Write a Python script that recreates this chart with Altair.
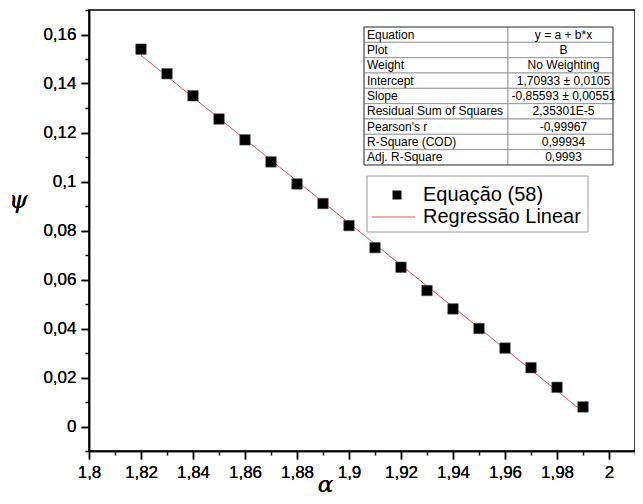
import altair as alt
import pandas as pd

# ---- data ----
alpha = [1.82, 1.83, 1.84, 1.85, 1.86, 1.87, 1.88, 1.89, 1.90,
         1.91, 1.92, 1.93, 1.94, 1.95, 1.96, 1.97, 1.98, 1.99]
psi = [0.154, 0.144, 0.135, 0.1255, 0.117, 0.108, 0.099, 0.091, 0.082,
       0.073, 0.065, 0.0555, 0.048, 0.040, 0.032, 0.024, 0.016, 0.008]

fit_alpha = [1.82, 1.99]
fit_psi = [0.1515, 0.0060]

x_major = [1.80, 1.82, 1.84, 1.86, 1.88, 1.90, 1.92, 1.94, 1.96, 1.98, 2.00]
x_minor = [1.81, 1.83, 1.85, 1.87, 1.89, 1.91, 1.93, 1.95, 1.97, 1.99, 2.01]
y_major = [0.0, 0.02, 0.04, 0.06, 0.08, 0.10, 0.12, 0.14, 0.16]
y_minor = [-0.01, 0.01, 0.03, 0.05, 0.07, 0.09, 0.11, 0.13, 0.15, 0.17]

table_labels = ["Equation", "Plot", "Weight", "Intercept", "Slope",
                "Residual Sum of Squares", "Pearson's r", "R-Square (COD)",
                "Adj. R-Square"]
table_values = ["y = a + b*x", "B", "No Weighting", "1,70933 ± 0,0105",
                "-0,85593 ± 0,00551", "2,35301E-5", "-0,99967", "0,99934",
                "0,9993"]
legend_labels = ["Equação (58)", "Regressão Linear"]

# ---- layout (pixels, relative to plot area) ----
W, H = 546, 441
FONT = "Liberation Sans"
LINE_RED = "#f04a4a"

pts = pd.DataFrame({"alpha": alpha, "psi": psi})
fit = pd.DataFrame({"alpha": fit_alpha, "psi": fit_psi})

xs = alt.Scale(domain=[1.8, 2.01], nice=False, zero=False)
ys = alt.Scale(domain=[-0.01, 0.17], nice=False, zero=False)

comma = "replace(format(datum.value, '~g'), '.', ',')"

x_axis = alt.Axis(values=x_major, labelExpr=comma, title="α", labelFlush=False,
                  orient="bottom", offset=0,
                  titleFont="DejaVu Serif", titleFontStyle="italic",
                  titleFontWeight="normal", titleFontSize=23,
                  titleX=236, titleY=33, titleBaseline="middle", titleAlign="center")
y_axis = alt.Axis(values=y_major, labelExpr=comma, title="ψ", orient="left",
                  offset=0,
                  titleFont="DejaVu Serif", titleFontStyle="italic",
                  titleFontWeight="normal", titleFontSize=24, titleAngle=0,
                  titleX=-71, titleY=190, titleBaseline="middle", titleAlign="center")

x_minor_axis = alt.Axis(values=x_minor, labels=False, domain=False, title="",
                        tickSize=4, orient="bottom", offset=0)
y_minor_axis = alt.Axis(values=y_minor, labels=False, domain=False, title="",
                        tickSize=4, orient="left", offset=0)

minor = alt.Chart(fit).mark_point(opacity=0).encode(
    x=alt.X("alpha:Q", scale=xs, axis=x_minor_axis),
    y=alt.Y("psi:Q", scale=ys, axis=y_minor_axis),
)

line = alt.Chart(fit).mark_line(color=LINE_RED, strokeWidth=1).encode(
    x=alt.X("alpha:Q", scale=xs, axis=x_axis),
    y=alt.Y("psi:Q", scale=ys, axis=y_axis),
)

points = alt.Chart(pts).mark_square(size=110, color="black", opacity=1,
                                     stroke="#555555", strokeWidth=0.6).encode(
    x=alt.X("alpha:Q", scale=xs, axis=x_axis),
    y=alt.Y("psi:Q", scale=ys, axis=y_axis),
)

# ---- statistics table ----
T_X0, T_XM, T_X1 = 275, 419, 524
T_Y0, ROW_H = 17, 15.33
rows = []
for i, (lab, val) in enumerate(zip(table_labels, table_values)):
    rows.append({"lab": lab, "val": val,
                 "y0": T_Y0 + i * ROW_H, "y1": T_Y0 + (i + 1) * ROW_H,
                 "yc": T_Y0 + (i + 0.5) * ROW_H})
tdf = pd.DataFrame(rows)

cells_l = alt.Chart(tdf).mark_rect(fill="white", stroke="#9a9a9a", strokeWidth=1).encode(
    x=alt.X("xa:Q", scale=None), x2="xb:Q",
    y=alt.Y("y0:Q", scale=None), y2="y1:Q",
).transform_calculate(xa=str(T_X0), xb=str(T_XM))
cells_r = alt.Chart(tdf).mark_rect(fill="white", stroke="#9a9a9a", strokeWidth=1).encode(
    x=alt.X("xa:Q", scale=None), x2="xb:Q",
    y=alt.Y("y0:Q", scale=None), y2="y1:Q",
).transform_calculate(xa=str(T_XM), xb=str(T_X1))
frame_df = pd.DataFrame({"x0": [T_X0], "x1": [T_X1], "y0": [T_Y0],
                         "y1": [T_Y0 + len(table_labels) * ROW_H]})
tframe = alt.Chart(frame_df).mark_rect(fill=None, stroke="#555555", strokeWidth=1).encode(
    x=alt.X("x0:Q", scale=None), x2="x1:Q",
    y=alt.Y("y0:Q", scale=None), y2="y1:Q",
)
t_lab = alt.Chart(tdf).mark_text(align="left", baseline="middle", font=FONT,
                                 fontSize=12, color="black").encode(
    x=alt.X("tx:Q", scale=None), y=alt.Y("yc:Q", scale=None), text="lab:N",
).transform_calculate(tx=str(T_X0 + 3))
t_val = alt.Chart(tdf).mark_text(align="center", baseline="middle", font=FONT,
                                 fontSize=12, color="black").encode(
    x=alt.X("tx:Q", scale=None), y=alt.Y("yc:Q", scale=None), text="val:N",
).transform_calculate(tx=str((T_XM + T_X1) / 2 + 3))

# ---- legend ----
L_X0, L_X1, L_Y0, L_Y1 = 278, 499, 166, 222
leg_box_df = pd.DataFrame({"x0": [L_X0], "x1": [L_X1], "y0": [L_Y0], "y1": [L_Y1]})
leg_box = alt.Chart(leg_box_df).mark_rect(fill="white", stroke="#9a9a9a", strokeWidth=1).encode(
    x=alt.X("x0:Q", scale=None), x2="x1:Q",
    y=alt.Y("y0:Q", scale=None), y2="y1:Q",
)
leg_df = pd.DataFrame({"label": legend_labels,
                       "ty": [L_Y0 + 19, L_Y0 + 41]})
leg_text = alt.Chart(leg_df).mark_text(align="left", baseline="middle", font=FONT,
                                       fontSize=20, color="black").encode(
    x=alt.X("tx:Q", scale=None), y=alt.Y("ty:Q", scale=None), text="label:N",
).transform_calculate(tx=str(L_X0 + 56))
leg_sq = alt.Chart(leg_df.iloc[[0]]).mark_square(size=80, color="black", opacity=1).encode(
    x=alt.X("sx:Q", scale=None), y=alt.Y("ty:Q", scale=None),
).transform_calculate(sx=str(L_X0 + 30))
leg_line = alt.Chart(leg_df.iloc[[1]]).mark_rule(color=LINE_RED, strokeWidth=1).encode(
    x=alt.X("lx0:Q", scale=None), x2="lx1:Q", y=alt.Y("ty:Q", scale=None),
).transform_calculate(lx0=str(L_X0 + 5), lx1=str(L_X0 + 48))

chart = alt.layer(
    minor, line, points,
    cells_l, cells_r, tframe, t_lab, t_val,
    leg_box, leg_sq, leg_line, leg_text,
).resolve_axis(x="independent", y="independent").properties(
    width=W, height=H,
    autosize=alt.AutoSizeParams(type="none"),
    padding={"left": 81, "top": 2, "right": 0, "bottom": 44},
).configure_view(
    stroke="black", strokeWidth=1.5
).configure_axis(
    domainColor="black", domainWidth=1.5, tickColor="black", tickWidth=1.5,
    tickSize=8, labelFont=FONT, labelFontSize=17, labelColor="black",
    labelPadding=5, grid=False, labelOverlap=False, titleColor="black",
)

chart.save("out.html", embed_options={"renderer": "svg", "actions": False})
